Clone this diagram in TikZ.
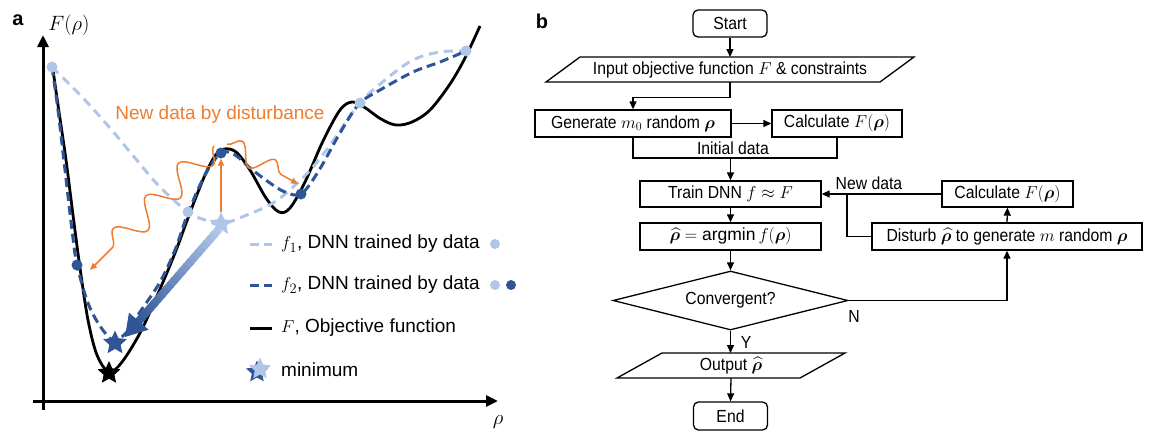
\documentclass[tikz,border=0pt]{standalone}
\usepackage{fontspec}
\setmainfont{Liberation Sans}
\newfontfamily\narrowfont{Liberation Sans}[FakeStretch=0.9]
\usepackage{amsmath,bm}
\usetikzlibrary{shapes.geometric,arrows.meta,decorations.pathmorphing,calc}
\definecolor{lblue}{HTML}{AFC6E9}
\definecolor{dblue}{HTML}{2F5597}
\definecolor{orng}{HTML}{ED7D31}
\begin{document}
\begin{tikzpicture}[x=1pt,y=-1pt,
  fbox/.style={draw, line width=1.3pt, minimum height=27pt, inner sep=0pt, font=\narrowfont\fontsize{17.5}{20}\selectfont},
  term/.style={fbox, rounded corners=5pt, minimum width=74pt},
  lbl/.style={font=\narrowfont\fontsize{17.5}{20}\selectfont, inner sep=0pt},
  flow/.style={line width=1.3pt, -{Triangle[length=8pt,width=7pt]}},
  plain/.style={line width=1.3pt},
  fcurve/.style={line width=2.8pt, black},
  fonecurve/.style={line width=3pt, lblue, dash pattern=on 9pt off 6pt},
  ftwocurve/.style={line width=3pt, dblue, dash pattern=on 9pt off 5pt},
  ldot/.style={circle, fill=lblue, minimum size=11pt, inner sep=0pt},
  ddot/.style={circle, fill=dblue, minimum size=11pt, inner sep=0pt},
  starnode/.style={star, star points=5, star point ratio=2.1, inner sep=0pt, minimum size=25pt},
  legtext/.style={anchor=west, inner sep=0pt, font=\fontsize{19}{22}\selectfont},
  wave/.style={orng, line width=1.5pt, decorate, decoration={snake, amplitude=13pt, segment length=46pt, post length=10pt}, -{Triangle[length=7pt,width=6pt]}},
  axis/.style={line width=3pt, -{Triangle[length=12pt,width=11pt]}}
]
\useasboundingbox (0,0) rectangle (1154,440);

% ---------------- panel a ----------------
\node[font=\bfseries\fontsize{20}{22}\selectfont] (la) at (18,20) {a};
\node[font=\fontsize{20}{22}\selectfont] (ylab) at (69,25) {$F(\rho)$};
\node[font=\fontsize{22}{24}\selectfont] (xlab) at (498,422) {$\rho$};
\coordinate (yb) at (43,410); \coordinate (yt) at (43,35);
\coordinate (xl) at (33,401); \coordinate (xr) at (498,401);
\draw[axis] (yb) -- (yt);
\draw[axis] (xl) -- (xr);

% objective F
\draw[fcurve] plot[smooth, tension=0.55] coordinates {(53,70) (58,105) (66,160) (73,215) (80,268) (88,320) (97,355) (109,372) (122,362) (140,333) (157,296) (175,253) (191,210) (205,175) (215,156) (224,149) (236,152) (250,170) (266,198) (279,212) (290,208) (305,182) (323,141) (340,110) (352,102) (364,107) (381,119) (396,125) (412,122) (430,110) (450,84) (465,58) (480,26)};
% f1
\draw[fonecurve] plot[smooth, tension=0.6] coordinates {(52,67) (83,98) (110,128) (135,158) (160,187) (188,212) (205,220) (221,224) (247,215) (273,203) (293,187) (313,167) (333,141) (359,104) (385,80) (413,60) (440,52) (466,51)};
% f2
\draw[ftwocurve] plot[smooth, tension=0.55] coordinates {(52,67) (58,110) (65,170) (72,230) (77,265) (88,303) (100,326) (113,340) (126,333) (140,312) (160,282) (175,250) (188,213) (205,175) (221,153) (235,155) (250,168) (270,183) (285,192) (301,194) (318,172) (340,133) (359,104) (380,90) (413,72) (440,62) (466,51)};

% data points
\node[ldot] (p1) at (52,67) {};
\node[ldot] (p2) at (188,212) {};
\node[ldot] (p3) at (360,103) {};
\node[ldot] (p4) at (466,51) {};
\node[ddot] (q1) at (77,265) {};
\node[ddot] (q2) at (221,153) {};
\node[ddot] (q3) at (301,194) {};

% stars
\node[starnode, fill=black, minimum size=24pt] (smin) at (109,373) {};
\node[starnode, fill=dblue] (s2) at (115,343) {};
\node[starnode, fill=lblue, minimum size=24pt] (s1) at (221,224) {};

% orange disturbance
\node[text=orng, font=\fontsize{19}{22}\selectfont] (nd) at (220,115) {New data by disturbance};
\coordinate (wl0) at (214,146); \coordinate (wl1) at (90,270);
\coordinate (wr0) at (227,144); \coordinate (wr1) at (298,184);
\draw[wave] (wl0) -- (wl1);
\draw[wave, decoration={snake, amplitude=10pt, segment length=38pt, post length=9pt}] (wr0) -- (wr1);
\draw[orng, line width=1.5pt, -{Triangle[length=7pt,width=6pt]}] (s1.north) -- (q2.south);

% gradient arrow f1-min -> f2-min
\coordinate (gs) at (219,229);
\coordinate (gt) at (125,337);
\coordinate (gb) at ($(gt)!21pt!(gs)$);
\foreach \i in {0,...,19} {
  \pgfmathsetmacro\pa{\i/20}
  \pgfmathsetmacro\pb{(\i+1.3)/20}
  \pgfmathtruncatemacro\pc{100-\i*5}
  \draw[line width=8pt, lblue!\pc!dblue] ($(gs)!\pa!(gb)$) -- ($(gs)!\pb!(gb)$);
}
\fill[dblue] (gt) -- ($(gb)!13pt!90:(gt)$) -- ($(gb)!13pt!-90:(gt)$) -- cycle;

% legend
\coordinate (l1a) at (250,244); \coordinate (l1b) at (272,244);
\coordinate (l2a) at (250,285); \coordinate (l2b) at (272,285);
\coordinate (l3a) at (250,328); \coordinate (l3b) at (272,328);
\draw[line width=3pt, lblue, dash pattern=on 9pt off 5pt] (l1a) -- (l1b);
\draw[line width=3pt, dblue, dash pattern=on 9pt off 5pt] (l2a) -- (l2b);
\draw[line width=3pt, black] (l3a) -- (l3b);
\node[legtext] (t1) at (281,244) {$f_1$, DNN trained by data};
\node[legtext] (t2) at (281,285) {$f_2$, DNN trained by data};
\node[legtext] (t3) at (281,328) {$F$, Objective function};
\node[legtext] (t4) at (281,370) {minimum};
\node[ldot, minimum size=10pt] (g1) at (495,244) {};
\node[ldot, minimum size=10pt] (g2) at (495,285) {};
\node[ddot, minimum size=10pt] (g3) at (511,285) {};
\node[starnode, fill=dblue, minimum size=23pt] (gs2) at (257,372) {};
\node[starnode, fill=lblue, minimum size=23pt] (gs1) at (260,369) {};

% ---------------- panel b ----------------
\node[font=\bfseries\fontsize{20}{22}\selectfont] (lb) at (542,21) {b};
\node[term] (start) at (730,23.5) {Start};
\node[lbl, minimum height=25pt] (inp) at (730,69.5) {Input objective function $F$ \& constraints};
\draw[plain] (546,82) -- (880,82) -- (914,57) -- (580,57) -- cycle;
\node[fbox, minimum width=196pt] (gen) at (633,123.5) {Generate $m_0$ random $\bm{\rho}$};
\node[fbox, minimum width=130pt] (calcA) at (837,123.5) {Calculate $F(\bm{\rho})$};
\node[lbl] (init) at (733,148) {Initial data};
\coordinate (jn) at (730.5,158);
\node[fbox, minimum width=181pt, minimum height=26pt] (train) at (730.5,194) {Train DNN $f\approx F$};
\node[fbox, minimum width=181pt] (amin) at (730.5,236.5) {$\widehat{\bm{\rho}}=\operatorname{argmin} f(\bm{\rho})$};
\node[diamond, draw, line width=1.3pt, minimum width=235pt, minimum height=59pt, aspect=4, lbl] (conv) at (730.5,300.5) {Convergent?};
\node[lbl, minimum height=25pt] (outp) at (731,365.5) {Output $\widehat{\bm{\rho}}$};
\draw[plain] (617,378) -- (800,378) -- (845,353) -- (662,353) -- cycle;
\node[term, minimum height=28pt] (stop) at (730.5,416) {End};
\node[fbox, minimum width=270pt] (dist) at (1007,236.5) {Disturb $\widehat{\bm{\rho}}$ to generate $m$ random $\bm{\rho}$};
\node[fbox, minimum width=131pt, minimum height=26pt] (calcB) at (1007.5,194) {Calculate $F(\bm{\rho})$};
\node[lbl] (newd) at (869,183) {New data};
\node[lbl] (nlab) at (854,316) {N};
\node[lbl] (ylabb) at (746,342) {Y};
\coordinate (ndj) at (847,194);

\draw[flow] (start.south) -- (0,57 -| start.south);
\draw[flow] (inp.south) -- ++(0,15) -| (gen.north);
\draw[flow] (gen.east) -- (calcA.west);
\draw[plain] (gen.south) |- (jn) -| (calcA.south);
\draw[flow] (jn) -- (train.north);
\draw[flow] (train.south) -- (amin.north);
\draw[flow] (amin.south) -- (conv.north);
\draw[flow] (conv.east) -| (dist.south);
\draw[flow] (dist.north) -- (calcB.south);
\draw[flow] (calcB.west) -- (train.east);
\draw[plain] (dist.west) -| (ndj);
\draw[flow] (conv.south) -- (0,353 -| conv.south);
\draw[flow] (outp.south) -- (stop.north);
\end{tikzpicture}
\end{document}
